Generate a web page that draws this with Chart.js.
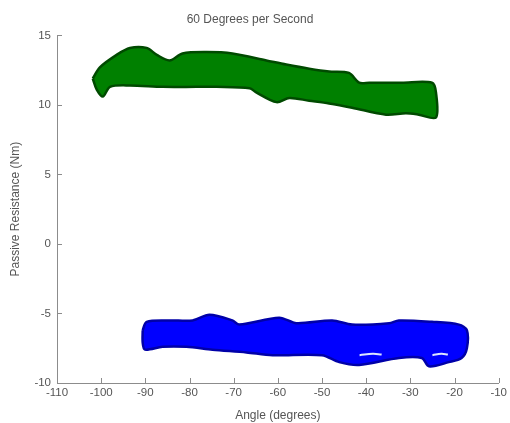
<!DOCTYPE html>
<html>
<head>
<meta charset="utf-8">
<script src="https://cdn.jsdelivr.net/npm/chart.js@4"></script>
<style>
  html, body { margin: 0; padding: 0; background: #ffffff; }
  #wrap { width: 510px; height: 423px; }
</style>
</head>
<body>
<div id="wrap"><canvas id="chart"></canvas></div>
<script>
// --- data (edges of each scatter band) ---
const xTicks = [-110, -100, -90, -80, -70, -60, -50, -40, -30, -20, -10];
const yTicks = [-10, -5, 0, 5, 10, 15];

const greenUpperX = [-101.9, -100.3, -96.5, -93.5, -89.7, -87.4, -84.5, -81.6, -76.1, -70.3, -62.6, -58.1, -52.9, -48.4, -43.9, -41.6, -39.3, -31.9, -25.1, -24.2];
const greenUpperY = [11.9, 12.7, 13.6, 14.1, 14.1, 13.6, 13.2, 13.7, 13.8, 13.7, 13.2, 12.9, 12.6, 12.4, 12.3, 11.6, 11.6, 11.6, 11.6, 10.9];
const greenLowerX = [-101.0, -99.6, -98.0, -93.5, -86.1, -78.4, -73.9, -66.4, -64.9, -60.3, -57.4, -52.9, -48.4, -43.2, -35.5, -31.0, -28.1, -24.2];
const greenLowerY = [11.1, 10.6, 11.3, 11.4, 11.3, 11.3, 11.3, 11.2, 10.9, 10.2, 10.5, 10.3, 10.1, 9.8, 9.3, 9.4, 9.3, 9.1];

const blueUpperX = [-90.6, -89.7, -84.5, -79.3, -75.5, -70.3, -68.7, -59.7, -55.8, -47.7, -43.2, -34.8, -32.6, -25.1, -19.0, -17.2];
const blueUpperY = [-6.2, -5.6, -5.5, -5.5, -5.1, -5.5, -5.8, -5.3, -5.7, -5.5, -5.8, -5.7, -5.5, -5.6, -5.8, -6.2];
const blueLowerX = [-90.6, -90.1, -86.1, -80.7, -74.8, -67.1, -61.2, -50.0, -46.1, -41.6, -32.6, -27.4, -25.8, -21.3, -18.4, -17.2];
const blueLowerY = [-7.1, -7.6, -7.4, -7.4, -7.6, -7.8, -8.0, -8.0, -8.5, -8.7, -8.2, -8.2, -8.8, -8.5, -8.2, -7.5];

// small gaps inside the blue band
const gapOneX = [-41.5, -38.5, -36.5];
const gapOneY = [-8.0, -7.9, -7.95];
const gapTwoX = [-25.0, -23.0, -21.5];
const gapTwoY = [-8.0, -7.9, -7.95];

// build a closed outline: upper edge left->right, lower edge right->left
function outline(ux, uy, lx, ly) {
    const pts = ux.map((x, i) => ({ x: x, y: uy[i] }));
    for (let i = lx.length - 1; i >= 0; i--) pts.push({ x: lx[i], y: ly[i] });
    pts.push(pts[0]);
    return pts;
}

function pairs(xs, ys) {
    return xs.map((x, i) => ({ x: x, y: ys[i] }));
}

const axisGray = "#8c8c8c";
const textGray = "#555555";

// MATLAB style ticks pointing into the plot
const inwardTicks = {
    id: "inwardTicks",
    afterDraw(chart) {
        const { ctx, chartArea, scales } = chart;
        ctx.save();
        ctx.strokeStyle = axisGray;
        ctx.lineWidth = 1;
        ctx.beginPath();
        xTicks.forEach(v => {
            const px = Math.round(scales.x.getPixelForValue(v)) + 0.5;
            ctx.moveTo(px, chartArea.bottom);
            ctx.lineTo(px, chartArea.bottom - 5);
        });
        yTicks.forEach(v => {
            const py = Math.round(scales.y.getPixelForValue(v)) + 0.5;
            ctx.moveTo(chartArea.left, py);
            ctx.lineTo(chartArea.left + 5, py);
        });
        ctx.stroke();
        ctx.restore();
    }
};

const ctx = document.getElementById("chart").getContext("2d");
new Chart(ctx, {
    type: "scatter",
    data: {
        datasets: [{
            data: outline(greenUpperX, greenUpperY, greenLowerX, greenLowerY),
            showLine: true,
            fill: "shape",
            backgroundColor: "#008000",
            borderColor: "#004a00",
            borderWidth: 2.5,
            pointRadius: 0,
            tension: 0.3,
        }, {
            data: outline(blueUpperX, blueUpperY, blueLowerX, blueLowerY),
            showLine: true,
            fill: "shape",
            backgroundColor: "#0000ff",
            borderColor: "#0000a8",
            borderWidth: 2.5,
            pointRadius: 0,
            tension: 0.3,
        }, {
            data: pairs(gapOneX, gapOneY),
            showLine: true,
            borderColor: "#dce4ff",
            borderWidth: 2,
            pointRadius: 0,
            tension: 0.4,
            order: -1,
        }, {
            data: pairs(gapTwoX, gapTwoY),
            showLine: true,
            borderColor: "#dce4ff",
            borderWidth: 2,
            pointRadius: 0,
            tension: 0.4,
            order: -1,
        }, ],
    },
    options: {
        responsive: true,
        maintainAspectRatio: false,
        animation: false,
        layout: { padding: { left: 0, right: 10, top: 0, bottom: 0 } },
        plugins: {
            legend: { display: false },
            tooltip: { enabled: false },
            title: {
                display: true,
                text: "60 Degrees per Second",
                color: textGray,
                font: { family: "Liberation Sans", size: 12, weight: "normal" },
                padding: { top: 12, bottom: 9 },
            },
        },
        scales: {
            x: {
                type: "linear",
                min: -110,
                max: -10,
                afterBuildTicks(scale) { scale.ticks = xTicks.map(v => ({ value: v })); },
                afterFit(scale) { scale.height = 40; },
                ticks: {
                    color: textGray,
                    font: { family: "Liberation Sans", size: 11.5 },
                    padding: 3,
                    maxRotation: 0,
                },
                grid: { drawOnChartArea: false, drawTicks: false },
                border: { color: axisGray, width: 1 },
                title: {
                    display: true,
                    text: "Angle (degrees)",
                    color: textGray,
                    font: { family: "Liberation Sans", size: 12 },
                    padding: { top: 0, bottom: 0 },
                },
            },
            y: {
                type: "linear",
                min: -10,
                max: 15,
                afterBuildTicks(scale) { scale.ticks = yTicks.map(v => ({ value: v })); },
                afterFit(scale) { scale.width = 57; },
                ticks: {
                    color: textGray,
                    font: { family: "Liberation Sans", size: 11.5 },
                    padding: 6,
                },
                grid: { drawOnChartArea: false, drawTicks: false },
                border: { color: axisGray, width: 1 },
                title: {
                    display: true,
                    text: "Passive Resistance (Nm)",
                    color: textGray,
                    font: { family: "Liberation Sans", size: 12 },
                    padding: { top: 8, bottom: 0 },
                },
            },
        },
    },
    plugins: [inwardTicks],
});
</script>
</body>
</html>
